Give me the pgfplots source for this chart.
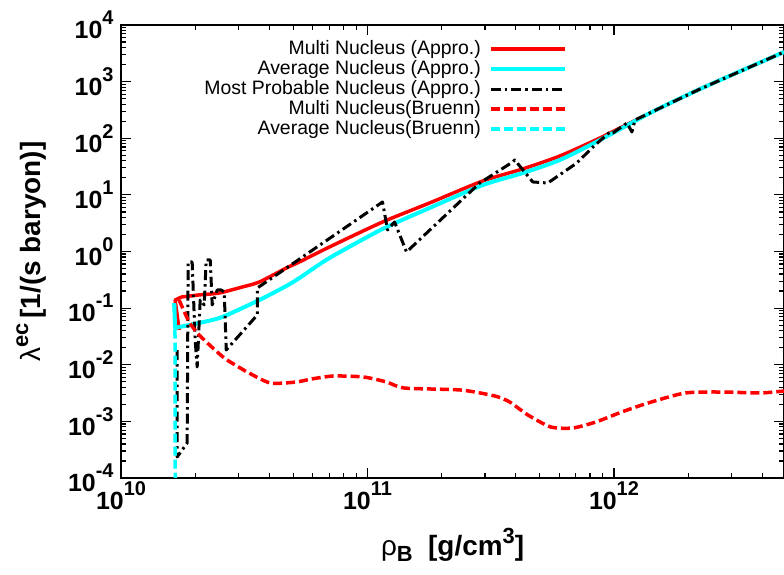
\documentclass[border=0pt]{standalone}
\usepackage{fontspec}
\setmainfont{Liberation Sans}
\usepackage{pgfplots}
\pgfplotsset{compat=1.18}
\definecolor{gpred}{RGB}{255,0,0}
\definecolor{gpcyan}{RGB}{0,255,255}
\newcommand{\tl}[1]{10\raisebox{14bp}{\fontsize{20}{20}\selectfont#1}}
\begin{document}
\begin{tikzpicture}[x=1bp,y=1bp]
\begin{axis}[
  at={(121bp,97bp)}, anchor=south west,
  width=663bp, height=453bp, scale only axis,
  xmode=log, ymode=log,
  xmin=1e10, xmax=4.9e12, ymin=1e-4, ymax=1e4,
  axis line style={line width=1.5bp},
  tick style={line width=1.2bp, black},
  major tick length=10bp, minor tick length=5bp,
  tick align=inside,
  xtick={1e10,1e11,1e12},
  xticklabels={\tl{10},\tl{11},\tl{12}},
  minor xtick={2e10,3e10,4e10,5e10,6e10,7e10,8e10,9e10,2e11,3e11,4e11,5e11,6e11,7e11,8e11,9e11,2e12,3e12,4e12},
  ytick={1e-4,1e-3,1e-2,1e-1,1,10,100,1000,10000},
  yticklabels={\tl{-4},\tl{-3},\tl{-2},\tl{-1},\tl{0},\tl{1},\tl{2},\tl{3},\tl{4}},
  minor ytick={2e-4,3e-4,4e-4,5e-4,6e-4,7e-4,8e-4,9e-4,
    2e-3,3e-3,4e-3,5e-3,6e-3,7e-3,8e-3,9e-3,
    2e-2,3e-2,4e-2,5e-2,6e-2,7e-2,8e-2,9e-2,
    0.2,0.3,0.4,0.5,0.6,0.7,0.8,0.9,
    2,3,4,5,6,7,8,9,
    20,30,40,50,60,70,80,90,
    200,300,400,500,600,700,800,900,
    2000,3000,4000,5000,6000,7000,8000,9000},
  ticklabel style={font=\fontsize{25}{27}\selectfont\bfseries},
  yticklabel style={xshift=-4bp},
  xlabel={{\mdseries ρ}\raisebox{-6bp}{\fontsize{22}{22}\selectfont B}\ \ [g/cm\raisebox{12bp}{\fontsize{22}{22}\selectfont 3}]},
  ylabel={{\mdseries λ}\raisebox{12bp}{\fontsize{22}{22}\selectfont ec}\,[1/(s baryon)]},
  label style={font=\fontsize{28}{30}\selectfont\bfseries},
  xlabel style={at={(axis description cs:0.5,-0.172)}, anchor=base},
  ylabel style={at={(axis description cs:-0.122,0.5)}, anchor=base},
  legend cell align=right,
  legend plot pos=right,
  legend image code/.code={\draw[#1] (0bp,0bp) -- (74bp,0bp);},
  legend style={draw=none, fill=none, inner sep=0pt, at={(0.6727,0.967)}, anchor=north east,
    font=\fontsize{19.5}{20}\selectfont,
    nodes={inner sep=0pt, text height=14bp, text depth=4bp},
    row sep=2bp, column sep=8bp},
  every axis plot/.append style={line join=round},
]
% red solid: initial hook, then smooth main branch
\addplot[gpred, line width=3.5bp, forget plot] coordinates {
(1.721e10,0.0411) (1.658e10,0.139) (1.754e10,0.157)};
\addplot[gpred, line width=3.5bp, smooth, tension=0.4] coordinates {
(1.754e10,0.157) (2.076e10,0.171) (2.503e10,0.185)
(3.104e10,0.236) (3.639e10,0.289) (4.685e10,0.511) (5.292e10,0.653) (7.006e10,1.20)
(1.151e11,3.32) (1.786e11,7.19) (2.934e11,17.6) (4.267e11,28.7) (6.034e11,48.6)
(8.772e11,101) (1.401e12,279) (2.237e12,741) (4.9e12,3334)};
\addlegendentry{Multi Nucleus (Appro.)}
% cyan solid
\addplot[gpcyan, line width=4bp, forget plot] coordinates {
(1.642e10,0.123) (1.658e10,0.0446) (1.721e10,0.0464)};
\addplot[gpcyan, line width=4bp, smooth, tension=0.4] coordinates {
(1.721e10,0.0464) (2.076e10,0.0546) (2.574e10,0.0697)
(3.639e10,0.139) (4.685e10,0.246) (5.292e10,0.340) (7.006e10,0.767) (1.151e11,2.50)
(1.786e11,5.87) (2.934e11,14.9) (4.267e11,24.3) (6.034e11,41.3) (8.772e11,93)
(1.401e12,279) (2.237e12,741) (4.9e12,3334)};
\addlegendentry{Average Nucleus (Appro.)}
\addplot[black, line width=3bp, dash pattern=on 10bp off 4bp on 2.5bp off 4bp] coordinates {
(1.689e10,0.0182) (1.689e10,2.35e-4) (1.855e10,4.15e-4) (1.872e10,0.653) (1.944e10,0.653)
(1.999e10,0.0273) (2.037e10,0.00913) (2.095e10,0.139) (2.175e10,0.114) (2.216e10,0.708)
(2.301e10,0.708) (2.344e10,0.114) (2.456e10,0.209) (2.550e10,0.209) (2.623e10,0.193)
(2.672e10,0.0182) (3.571e10,0.0756) (3.571e10,0.226) (1.151e11,7.49) (1.206e11,2.40)
(1.288e11,3.32) (1.440e11,0.980) (2.853e11,16.2) (3.885e11,38.1) (3.958e11,41.3)
(4.685e11,16.9) (5.393e11,16.2) (7.073e11,36.6) (8.215e11,70) (9.632e11,129)
(9.906e11,124) (1.129e12,186) (1.183e12,129) (1.217e12,210) (2.237e12,741) (4.9e12,3334)};
\addlegendentry{Most Probable Nucleus (Appro.)}
\addplot[gpred, line width=3.5bp, dash pattern=on 9bp off 4bp, smooth, tension=0.4] coordinates {
(1.721e10,0.139) (1.890e10,0.0569) (2.076e10,0.0335) (2.456e10,0.0168) (2.697e10,0.0121)
(3.252e10,0.00744) (4.033e10,0.00476) (5.145e10,0.00496) (5.922e10,0.00560) (7.275e10,0.00633)
(9.632e10,0.00608) (1.195e11,0.00496) (1.414e11,0.00388) (2.388e11,0.00358) (3.283e11,0.00281)
(3.777e11,0.00220) (4.471e11,0.00130) (5.546e11,0.000796) (6.813e11,0.000764) (8.449e11,0.000976)
(1.078e12,0.00147) (1.375e12,0.00211) (1.944e12,0.00317) (2.748e12,0.00330) (3.922e12,0.00317)
(4.9e12,0.00344)};
\addlegendentry{Multi Nucleus(Bruenn)}
\addplot[gpcyan, line width=3.5bp, dash pattern=on 9bp off 4bp] coordinates {
(1.650e10,0.12) (1.658e10,0.02) (1.660e10,5e-5)};
\addlegendentry{Average Nucleus(Bruenn)}
\end{axis}
\pgfresetboundingbox
\path[use as bounding box] (0,0) rectangle (784,575);
\end{tikzpicture}
\end{document}
